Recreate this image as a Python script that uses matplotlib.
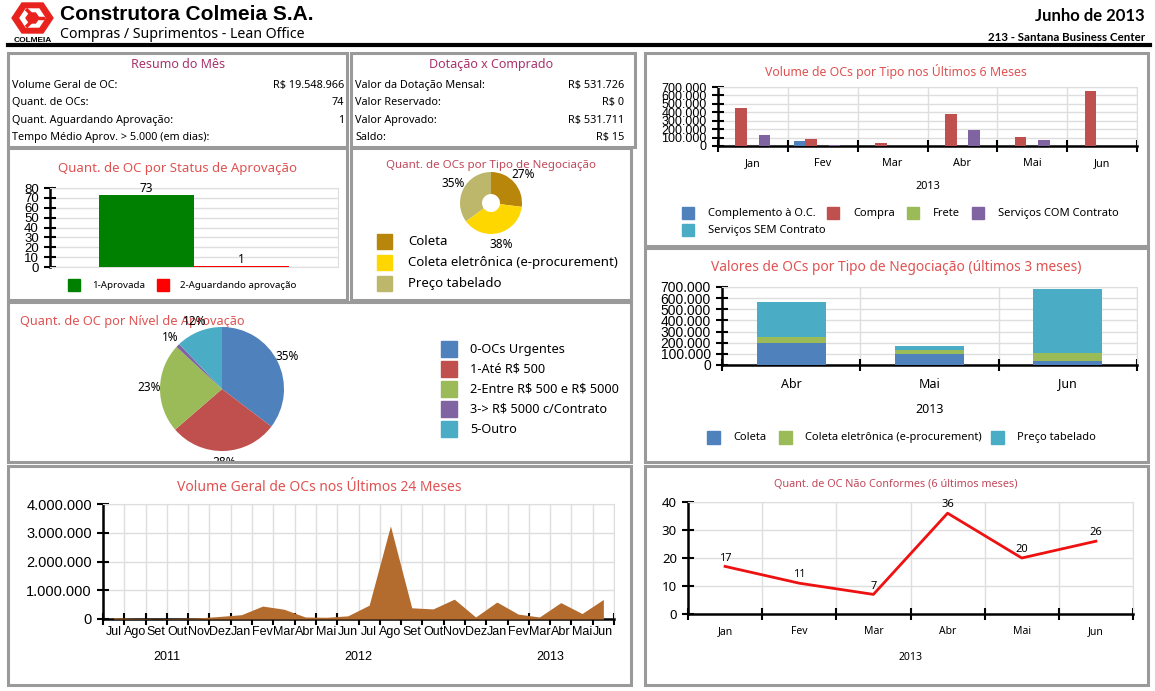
import matplotlib
matplotlib.use('Agg')
import matplotlib.pyplot as plt
import matplotlib.patches as mpatches
from matplotlib.ticker import FuncFormatter
from matplotlib.transforms import Bbox
import numpy as np

W, H = 1155, 691
plt.rcParams['font.family'] = ['Noto Sans', 'DejaVu Sans']
ARIAL = 'Liberation Sans'

# ---- dados ----
resumo_labels = ['Volume Geral de OC:', 'Quant. de OCs:', 'Quant. Aguardando Aprovação:',
                 'Tempo Médio Aprov. > 5.000 (em dias):']
resumo_values = ['R$ 19.548.966', '74', '1', '']
dotacao_labels = ['Valor da Dotação Mensal:', 'Valor Reservado:', 'Valor Aprovado:', 'Saldo:']
dotacao_values = ['R$ 531.726', 'R$ 0', 'R$ 531.711', 'R$ 15']

status_labels = ['1-Aprovada', '2-Aguardando aprovação']
status_values = [73, 1]

neg_labels = ['Coleta', 'Coleta eletrônica (e-procurement)', 'Preço tabelado']
neg_pct = [27, 38, 35]

nivel_labels = ['0-OCs Urgentes', '1-Até R$ 500', '2-Entre R$ 500 e R$ 5000',
                '3-> R$ 5000 c/Contrato', '5-Outro']
nivel_pct = [35, 28, 23, 1, 12]

meses24 = ['Jul', 'Ago', 'Set', 'Out', 'Nov', 'Dez', 'Jan', 'Fev', 'Mar', 'Abr', 'Mai', 'Jun',
           'Jul', 'Ago', 'Set', 'Out', 'Nov', 'Dez', 'Jan', 'Fev', 'Mar', 'Abr', 'Mai', 'Jun']
anos24 = ['2011', '2012', '2013']
volume24 = [45000, 20000, 10000, 20000, 40000, 90000, 150000, 450000, 340000, 70000, 60000, 110000,
            480000, 3240000, 390000, 350000, 690000, 70000, 590000, 170000, 70000, 570000, 190000, 680000]

meses6 = ['Jan', 'Fev', 'Mar', 'Abr', 'Mai', 'Jun']
tipo_labels = ['Complemento à O.C.', 'Compra', 'Frete', 'Serviços COM Contrato', 'Serviços SEM Contrato']
complemento = [0, 59000, 0, 0, 0, 0]
compra = [450000, 83000, 32000, 380000, 103000, 656000]
frete = [0, 0, 0, 0, 0, 0]
serv_com = [134000, 16000, 0, 186000, 67000, 0]
serv_sem = [0, 0, 0, 0, 0, 0]

meses3 = ['Abr', 'Mai', 'Jun']
neg3_labels = ['Coleta', 'Coleta eletrônica (e-procurement)', 'Preço tabelado']
coleta3 = [201000, 96000, 36000]
eproc3 = [54000, 42000, 72000]
preco3 = [310000, 33000, 571000]

nao_conformes = [17, 11, 7, 36, 20, 26]

# cores
c_office = ['#4f81bd', '#c0504d', '#9bbb59', '#8064a2', '#4bacc6']
c_neg = ['#b8860b', '#ffd700', '#bdb76b']
c_status = ['#008000', '#ff0000']
c_titulo = '#e05252'
c_secao = '#a8336c'
c_borda = '#9a9a9a'


def esc(s):
    # evita que "R$ ... R$" vire mathtext
    return s.replace('$', r'\$')


fig = plt.figure(figsize=(W / 100, H / 100), dpi=100)

ov = fig.add_axes([0, 0, 1, 1])
ov.set_xlim(0, W)
ov.set_ylim(H, 0)
ov.axis('off')


def px_axes(x0, y0, x1, y1):
    return fig.add_axes([x0 / W, 1 - y1 / H, (x1 - x0) / W, (y1 - y0) / H])


def painel(x0, y0, x1, y1):
    ov.add_patch(mpatches.Rectangle((x0, y0), x1 - x0, y1 - y0, fill=False, ec=c_borda, lw=2.2))


def legenda(labels, cores, pos, size, fs, gap=13):
    for lab, cor, (x, y) in zip(labels, cores, pos):
        ov.add_patch(mpatches.Rectangle((x, y - size / 2), size, size, color=cor))
        ov.text(x + size + gap, y, esc(lab), fontsize=fs, va='center', ha='left')


milhar = FuncFormatter(lambda v, p: f'{int(v):,}'.replace(',', '.'))


def estilo(ax, n, ymax, step, yfs, yfont=ARIAL):
    ax.set_xlim(0, n)
    ax.set_ylim(0, ymax)
    ax.set_xticks(np.arange(n + 1))
    ax.set_xticklabels([])
    ax.set_yticks(np.arange(0, ymax + 1, step))
    ax.grid(True, which='major', color='#dedede', lw=1)
    ax.set_axisbelow(True)
    for s in ['top', 'right']:
        ax.spines[s].set_color('#dedede')
    for s in ['left', 'bottom']:
        ax.spines[s].set_color('black')
        ax.spines[s].set_linewidth(1.8)
    ax.tick_params(which='major', direction='inout', length=9, width=1.5, labelsize=yfs)
    for t in ax.get_yticklabels():
        t.set_family(yfont)


def meses_eixo(ax, labels, fs, pad, font=None):
    ax.set_xticks(np.arange(len(labels)) + 0.5, minor=True)
    ax.set_xticklabels(labels, minor=True, fontsize=fs)
    ax.tick_params(axis='x', which='minor', length=0, pad=pad)
    if font:
        for t in ax.get_xticklabels(minor=True):
            t.set_family(font)


# ---- cabeçalho ----
ov.add_patch(mpatches.Polygon([(12, 18), (22, 3), (43, 3), (53, 18), (43, 33), (22, 33)],
                              closed=True, color='#e8231e'))
ov.add_patch(mpatches.Polygon([(20, 18), (26, 9), (39, 9), (45, 18), (39, 27), (26, 27)],
                              closed=True, color='white'))
ov.add_patch(mpatches.Polygon([(26, 18), (29.5, 13), (35.5, 13), (39, 18), (35.5, 23), (29.5, 23)],
                              closed=True, color='#e8231e'))
for (xa, ya), (xb, yb) in [((26, 9), (31, 14)), ((45, 18), (38, 18)), ((26, 27), (31, 22))]:
    ov.plot([xa, xb], [ya, yb], color='#e8231e', lw=2.5, solid_capstyle='butt')
ov.text(32.5, 40, 'COLMEIA', fontsize=6, fontweight='bold', family=ARIAL, ha='center', va='center')
ov.text(60, 14, 'Construtora Colmeia S.A.', fontsize=15, fontweight='bold', family=ARIAL,
        ha='left', va='center')
ov.text(60, 34, 'Compras / Suprimentos - Lean Office', fontsize=10.2, ha='left', va='center')
ov.text(1145, 16, 'Junho de 2013', fontsize=12, fontweight='bold', family=['Lato', 'DejaVu Sans'],
        ha='right', va='center')
ov.text(1145, 37, '213 - Santana Business Center', fontsize=8.3, fontweight='bold',
        family=['Lato', 'DejaVu Sans'], ha='right', va='center')
ov.plot([8, 1150], [45, 45], color='black', lw=3)

# ---- painéis ----
painel(8, 53, 347, 147)
painel(351, 53, 635, 147)
painel(8, 148, 347, 300)
painel(351, 148, 631, 300)
painel(8, 302, 631, 462)
painel(8, 466, 631, 685)
painel(645, 53, 1148, 246)
painel(645, 248, 1148, 462)
painel(645, 466, 1148, 685)

# ---- tabelas resumo ----
ov.text(178, 64, 'Resumo do Mês', fontsize=9, color=c_secao, ha='center', va='center')
ov.text(491, 64, 'Dotação x Comprado', fontsize=9, color=c_secao, ha='center', va='center')
for i, (lab, val) in enumerate(zip(resumo_labels, resumo_values)):
    y = 85 + i * 17.5
    ov.text(12, y, esc(lab), fontsize=7.8, ha='left', va='center')
    ov.text(344, y, esc(val), fontsize=7.8, ha='right', va='center')
for i, (lab, val) in enumerate(zip(dotacao_labels, dotacao_values)):
    y = 85 + i * 17.5
    ov.text(355, y, esc(lab), fontsize=7.8, ha='left', va='center')
    ov.text(624, y, esc(val), fontsize=7.8, ha='right', va='center')

# ---- status de aprovação ----
ov.text(178, 168, 'Quant. de OC por Status de Aprovação', fontsize=9.5, color=c_titulo,
        ha='center', va='center')
ax = px_axes(50, 188, 338, 267)
ax.set_xlim(-0.5, 0.5)
ax.set_ylim(0, 80)
ax.set_yticks(np.arange(0, 81, 10))
ax.set_xticks([])
larg = 0.33
xs = [-larg / 2, larg / 2]
bars = ax.bar(xs, status_values, width=larg, color=c_status, zorder=3)
for b, v in zip(bars, status_values):
    ax.annotate(str(v), (b.get_x() + b.get_width() / 2, v), xytext=(0, 0), textcoords='offset points',
                ha='center', va='bottom', fontsize=8.5)
ax.grid(True, axis='y', color='#dedede', lw=1)
ax.set_axisbelow(True)
for s in ['top', 'right', 'bottom']:
    ax.spines[s].set_color('#dedede')
ax.spines['left'].set_color('black')
ax.spines['left'].set_linewidth(1.8)
ax.tick_params(axis='y', direction='inout', length=9, width=1.5, labelsize=9.5)
for t in ax.get_yticklabels():
    t.set_family(ARIAL)
legenda(status_labels[:1], c_status[:1], [(68, 285)], 12, 7, gap=12)
legenda(status_labels[1:], c_status[1:], [(157, 285)], 12, 7, gap=11)

# ---- tipo de negociação (rosca) ----
ov.text(491, 165, 'Quant. de OCs por Tipo de Negociação', fontsize=8.3, color='#c0485a',
        ha='center', va='center')
r = 31
ax = px_axes(491 - 1.25 * r, 203 - 1.25 * r, 491 + 1.25 * r, 203 + 1.25 * r)
w, t, at = ax.pie(neg_pct, colors=c_neg, startangle=90, counterclock=False,
                  autopct=lambda p: f'{p:.0f}%', pctdistance=1.38,
                  wedgeprops=dict(width=0.71))
for a in at:
    a.set_fontsize(8.5)
legenda(neg_labels, c_neg, [(377, 241), (377, 262), (377, 283)], 15, 9.5, gap=16)

# ---- nível de aprovação (pizza) ----
ov.text(20, 321, 'Quant. de OC por Nível de Aprovação', fontsize=9.2, color=c_titulo,
        ha='left', va='center')
r = 62
ax = px_axes(222 - 1.25 * r, 389 - 1.25 * r, 222 + 1.25 * r, 389 + 1.25 * r)
w, t, at = ax.pie(nivel_pct, colors=c_office, startangle=90, counterclock=False,
                  autopct=lambda p: f'{p:.0f}%', pctdistance=1.18)
clip = Bbox.from_extents(8, H - 461, 631, H - 302)
for a in at:
    a.set_fontsize(8.5)
    a.set_clip_box(clip)
    a.set_clip_on(True)
legenda(nivel_labels, c_office, [(441, 349 + 20 * i) for i in range(5)], 16, 9.2)

# ---- volume 24 meses ----
ov.text(319, 487, 'Volume Geral de OCs nos Últimos 24 Meses', fontsize=10, color=c_titulo,
        ha='center', va='center')
ax = px_axes(103, 504, 614, 619)
n = len(meses24)
estilo(ax, n, 4000000, 1000000, 10.5)
ax.yaxis.set_major_formatter(milhar)
x = np.arange(n) + 0.5
ax.fill_between(x, volume24, color='#b36b2e', zorder=3, lw=0)
meses_eixo(ax, meses24, 9, 5, ARIAL)
inicios = [0] + [i for i, m in enumerate(meses24) if m == 'Jan'] + [n]
for ano, a0, a1 in zip(anos24, inicios[:-1], inicios[1:]):
    ax.annotate(ano, ((a0 + a1) / 2, 0), xycoords=('data', 'axes fraction'), xytext=(0, -27),
                textcoords='offset points', ha='center', va='center', fontsize=9, family=ARIAL)

# ---- volume por tipo 6 meses ----
ov.text(896, 71, 'Volume de OCs por Tipo nos Últimos 6 Meses', fontsize=8.9, color=c_titulo,
        ha='center', va='center')
ax = px_axes(718, 87, 1137, 146)
n = len(meses6)
estilo(ax, n, 700000, 100000, 9)
ax.yaxis.set_major_formatter(milhar)
series = [complemento, compra, frete, serv_com, serv_sem]
bw = 1 / 6
for k, (s, cor) in enumerate(zip(series, c_office)):
    ax.bar(np.arange(n) + 0.5 + (k - 2) * bw, s, width=bw, color=cor, zorder=3)
meses_eixo(ax, meses6, 7.8, 8.5)
ax.annotate('2013', (n / 2, 0), xycoords=('data', 'axes fraction'), xytext=(0, -29),
            textcoords='offset points', ha='center', va='center', fontsize=7.8)
legenda(tipo_labels[:4], c_office[:4], [(682, 213), (827, 213), (907, 213), (972, 213)], 12, 8, gap=14)
legenda(tipo_labels[4:], c_office[4:], [(682, 230)], 12, 8, gap=14)

# ---- negociação 3 meses (empilhado) ----
ov.text(896, 267, 'Valores de OCs por Tipo de Negociação (últimos 3 meses)', fontsize=9.9,
        color=c_titulo, ha='center', va='center')
ax = px_axes(722, 287, 1137, 365)
n = len(meses3)
estilo(ax, n, 700000, 100000, 10)
ax.yaxis.set_major_formatter(milhar)
x = np.arange(n) + 0.5
base = np.zeros(n)
cores3 = [c_office[0], c_office[2], c_office[4]]
for s, cor in zip([coleta3, eproc3, preco3], cores3):
    ax.bar(x, s, width=0.5, bottom=base, color=cor, zorder=3)
    base = base + np.array(s)
meses_eixo(ax, meses3, 9, 9)
ax.annotate('2013', (n / 2, 0), xycoords=('data', 'axes fraction'), xytext=(0, -32),
            textcoords='offset points', ha='center', va='center', fontsize=9)
legenda(neg3_labels, cores3, [(707, 437), (779, 437), (991, 437)], 13, 8)

# ---- não conformes ----
ov.text(896, 484, 'Quant. de OC Não Conformes (6 últimos meses)', fontsize=7.8, color='#c0485a',
        ha='center', va='center')
ax = px_axes(688, 502, 1133, 614)
n = len(meses6)
estilo(ax, n, 40, 10, 9.5, 'Noto Sans')
x = np.arange(n) + 0.5
ax.plot(x, nao_conformes, color='#ee1111', lw=2, zorder=3)
for xi, v in zip(x, nao_conformes):
    ax.annotate(str(v), (xi, v), xytext=(0, 2), textcoords='offset points', ha='center',
                va='bottom', fontsize=8)
meses_eixo(ax, meses6, 7.5, 9)
ax.annotate('2013', (n / 2, 0), xycoords=('data', 'axes fraction'), xytext=(0, -31),
            textcoords='offset points', ha='center', va='center', fontsize=7.5)

fig.savefig('out.png', dpi=100)
